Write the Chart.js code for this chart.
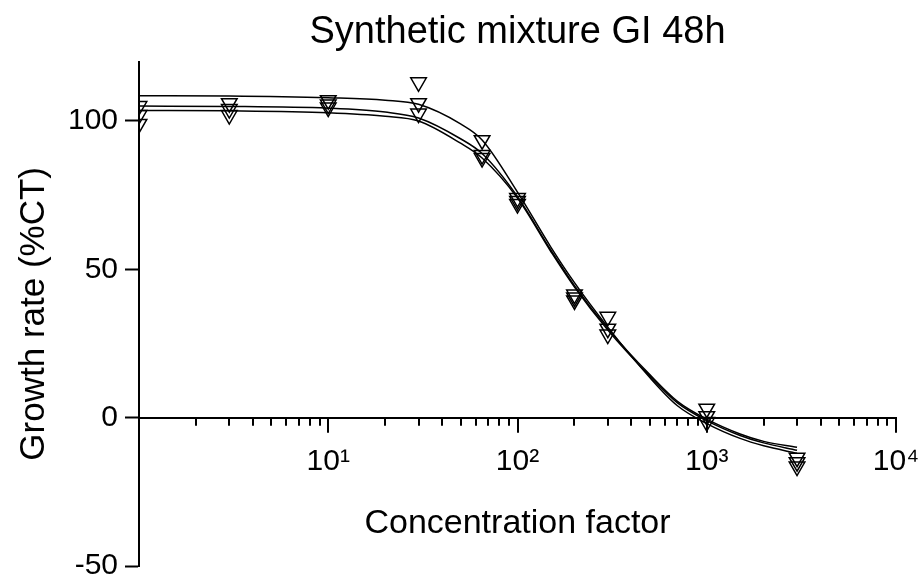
<!DOCTYPE html>
<html>
<head>
<meta charset="utf-8">
<script src="https://cdn.jsdelivr.net/npm/chart.js@4.4.1/dist/chart.umd.min.js"></script>
<style>
  html, body { margin: 0; padding: 0; background: #fff; }
  #wrap { width: 924px; height: 578px; }
</style>
</head>
<body>
<div id="wrap"><canvas id="chart" width="924" height="578"></canvas></div>
<script>
// measured points: concentration factor and three replicates (% of control)
const concX = [1, 3, 10, 30, 65, 100, 200, 300, 1000, 3000];
const rep1 = [105, 106, 107, 113, 93.5, 74, 41.5, 34, 3, -13.5];
const rep2 = [102, 104, 105.5, 106, 88.5, 73, 40.5, 30, 0.5, -15];
const rep3 = [99, 102, 104.5, 102.5, 87.5, 72, 39.5, 28, -1.5, -16.5];

// fitted curves
const fitX = [1, 3, 10, 20, 30, 50, 65, 100, 150, 200, 300, 500, 700, 1000, 1500, 2000, 3000];
const fitA = [108.5, 108.4, 107.8, 107, 105.6, 99, 93.6, 76, 57.5, 45.5, 30.5, 13.5, 4, -2, -7, -9.5, -12];
const fitB = [105, 104.9, 104.3, 103, 101, 94, 89, 74.5, 56.5, 44.5, 30, 14.5, 5.5, -0.5, -5.5, -8, -10];
const fitC = [103.5, 103.4, 102.8, 101.6, 100, 92.5, 87.5, 74, 56, 44, 29.5, 14, 5, -1, -6, -8.5, -11];

// axes
const yTicks = [-50, 0, 50, 100];
const decades = [1, 10, 100, 1000, 10000];
const decadeLabels = ['', '10¹', '10²', '10³', '10⁴'];
const minorSteps = [2, 3, 4, 5, 6, 7, 8, 9];

const FONT = "'Liberation Sans', Arial, sans-serif";

function pts(xs, ys) {
  return xs.map((x, i) => ({x: x, y: ys[i]}));
}

function curve(ys) {
  return {
    data: pts(fitX, ys),
    showLine: true,
    borderColor: '#000',
    borderWidth: 1.5,
    pointRadius: 0,
    cubicInterpolationMode: 'monotone',
    fill: false,
    order: 2
  };
}

function marks(ys) {
  return {
    data: pts(concX, ys),
    showLine: false,
    pointStyle: 'triangle',
    rotation: 180,
    pointRadius: 9,
    borderColor: '#000',
    borderWidth: 1.5,
    backgroundColor: 'rgba(0,0,0,0)',
    order: 1
  };
}

// x tick marks: long at decades, short in between
const xTickMarks = {
  id: 'xTickMarks',
  afterDraw(chart) {
    const xs = chart.scales.x, ys = chart.scales.y;
    const ctx = chart.ctx;
    const y0 = ys.getPixelForValue(0);
    ctx.save();
    ctx.strokeStyle = '#000';
    ctx.lineWidth = 2;
    xs.ticks.forEach(t => {
      const px = Math.round(xs.getPixelForValue(t.value));
      const len = decades.indexOf(t.value) >= 0 ? 15 : 8;
      ctx.beginPath();
      ctx.moveTo(px, y0);
      ctx.lineTo(px, y0 + len);
      ctx.stroke();
    });
    ctx.restore();
  }
};

const ctx = document.getElementById('chart').getContext('2d');
new Chart(ctx, {
  type: 'scatter',
  data: {
    datasets: [curve(fitA), curve(fitB), curve(fitC), marks(rep1), marks(rep2), marks(rep3)]
  },
  options: {
    responsive: false,
    animation: false,
    layout: { padding: { left: 0, right: 28, top: 0, bottom: 0 } },
    plugins: {
      legend: { display: false },
      tooltip: { enabled: false },
      title: {
        display: true,
        text: 'Synthetic mixture GI 48h',
        fullSize: false,
        color: '#000',
        font: { family: FONT, size: 38, weight: 'normal' },
        padding: { top: 10, bottom: 6 }
      }
    },
    scales: {
      x: {
        type: 'logarithmic',
        min: 1,
        max: 10000,
        position: { y: 0 },
        afterBuildTicks: scale => {
          const t = [];
          decades.forEach(d => {
            t.push({value: d});
            if (d < 10000) minorSteps.forEach(m => t.push({value: d * m}));
          });
          t.sort((a, b) => a.value - b.value);
          scale.ticks = t;
        },
        afterFit: scale => {
          scale.paddingLeft = 0;
          scale.paddingRight = 0;
        },
        ticks: {
          autoSkip: false,
          maxRotation: 0,
          color: '#000',
          padding: 11,
          font: { family: FONT, size: 30 },
          callback: v => {
            const i = decades.indexOf(v);
            return i >= 0 ? decadeLabels[i] : '';
          }
        },
        grid: {
          display: true,
          drawOnChartArea: false,
          drawTicks: true,
          tickLength: 15,
          tickColor: 'rgba(0,0,0,0)'
        },
        border: { display: true, color: '#000', width: 2 },
        title: {
          display: true,
          text: 'Concentration factor',
          color: '#000',
          font: { family: FONT, size: 34 },
          padding: { top: 13, bottom: 0 }
        }
      },
      y: {
        type: 'linear',
        position: 'left',
        min: -50,
        max: 120,
        afterBuildTicks: scale => {
          scale.ticks = yTicks.map(v => ({value: v}));
        },
        afterFit: scale => {
          scale.width = 139;
          scale.paddingTop = 0;
          scale.paddingBottom = 12;
        },
        ticks: {
          color: '#000',
          padding: 7,
          font: { family: FONT, size: 30 }
        },
        grid: {
          display: true,
          drawOnChartArea: false,
          drawTicks: true,
          tickLength: 14,
          tickWidth: 2,
          tickColor: '#000'
        },
        border: { display: true, color: '#000', width: 2 },
        title: {
          display: true,
          text: 'Growth rate (%CT)',
          color: '#000',
          font: { family: FONT, size: 35 },
          padding: { top: 13, bottom: 0 }
        }
      }
    }
  },
  plugins: [xTickMarks]
});
</script>
</body>
</html>
